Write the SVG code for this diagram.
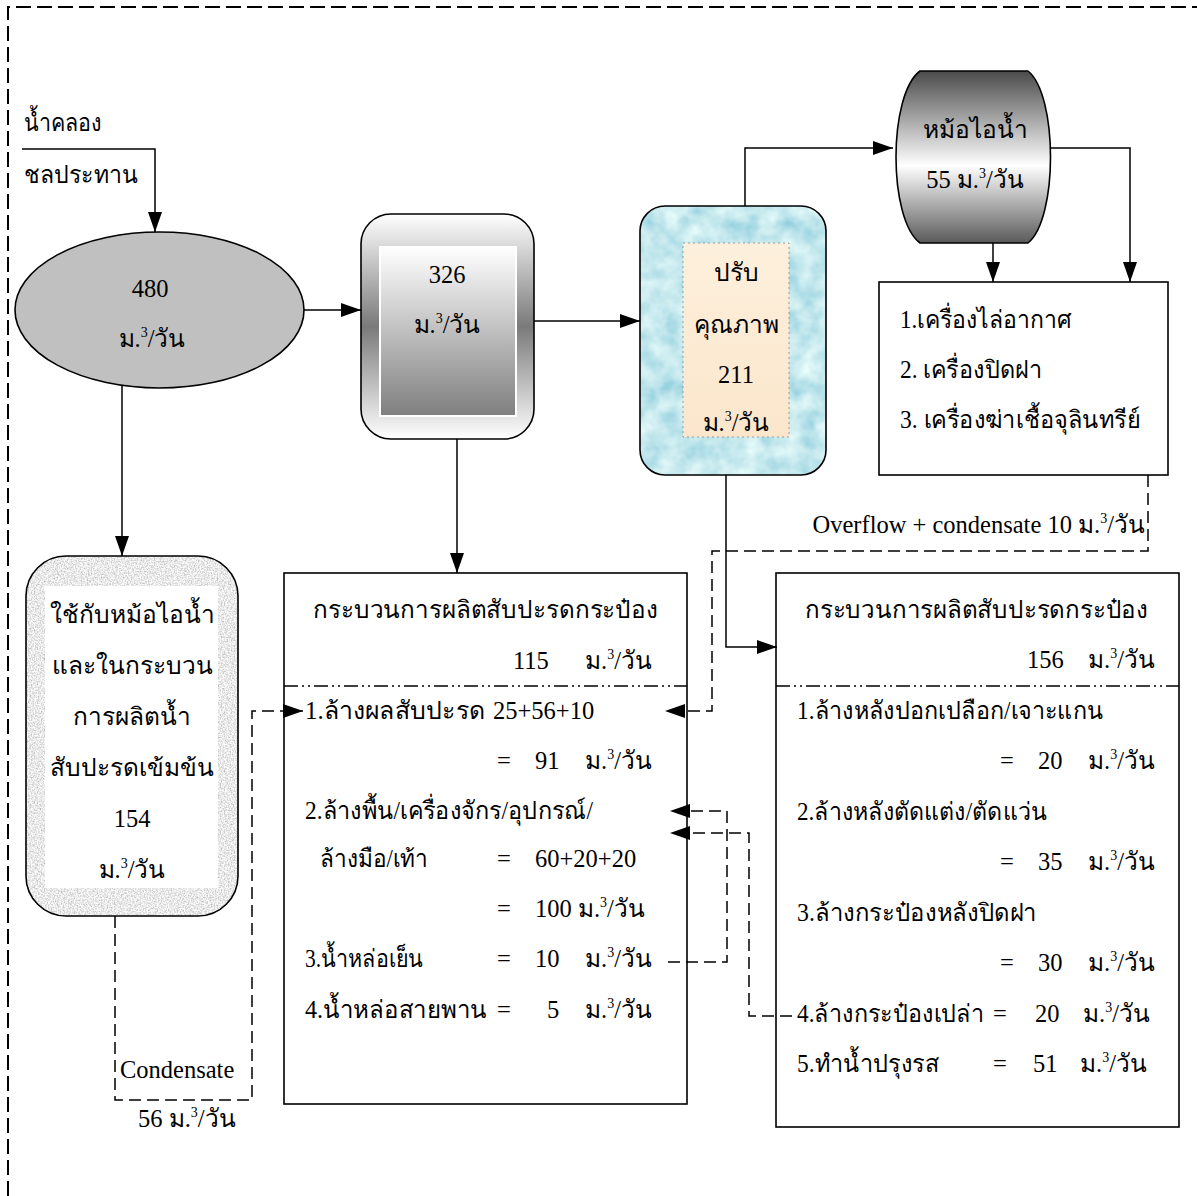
<svg xmlns="http://www.w3.org/2000/svg" width="1197" height="1196" viewBox="0 0 1197 1196">
<style>
text{font-family:"Liberation Serif","DejaVu Serif",serif;font-size:24.5px;fill:#000}
.c{text-anchor:middle}
.e{text-anchor:end}
.box{fill:#fff;stroke:#000;stroke-width:1.6}
.ln{fill:none;stroke:#000;stroke-width:1.5}
.ar{marker-end:url(#ah)}
.dl{fill:none;stroke:#000;stroke-width:1.5;stroke-dasharray:12 6}
.dd{fill:none;stroke:#000;stroke-width:1.3;stroke-dasharray:14 4 2 4 2 4}
.sup{font-size:14px}
</style>
<defs>
<marker id="ah" markerUnits="userSpaceOnUse" markerWidth="20" markerHeight="14" refX="20" refY="7" orient="auto">
<path d="M0,0 L20,7 L0,14 Z" fill="#000"/>
</marker>
<linearGradient id="g2o" x1="0" y1="0" x2="0" y2="1">
<stop offset="0" stop-color="#ffffff"/><stop offset="0.5" stop-color="#7a7a7a"/><stop offset="1" stop-color="#ffffff"/>
</linearGradient>
<linearGradient id="g2i" x1="0" y1="0" x2="0" y2="1">
<stop offset="0" stop-color="#ffffff"/><stop offset="1" stop-color="#7f7f7f"/>
</linearGradient>
<linearGradient id="gb" x1="0" y1="0" x2="0" y2="1">
<stop offset="0" stop-color="#4a4a4a"/><stop offset="0.55" stop-color="#ffffff"/><stop offset="1" stop-color="#5a5a5a"/>
</linearGradient>
<linearGradient id="gp" x1="0" y1="0" x2="0" y2="1">
<stop offset="0" stop-color="#fdf0dc"/><stop offset="1" stop-color="#fbe6cc"/>
</linearGradient>
<filter id="water" x="0" y="0" width="100%" height="100%">
<feTurbulence type="fractalNoise" baseFrequency="0.05" numOctaves="3" seed="7" result="n"/>
<feColorMatrix in="n" type="matrix" values="0.7 0 0 0 0.2  0.45 0 0 0 0.58  0.3 0 0 0 0.7  0 0 0 0 1" result="g"/>
<feComposite in="g" in2="SourceGraphic" operator="in"/>
</filter>
<filter id="granite" x="0" y="0" width="100%" height="100%">
<feTurbulence type="fractalNoise" baseFrequency="0.7" numOctaves="2" seed="3" result="n"/>
<feColorMatrix in="n" type="matrix" values="1 0 0 0 0.32  1 0 0 0 0.32  1 0 0 0 0.32  0 0 0 0 1" result="g"/>
<feComposite in="g" in2="SourceGraphic" operator="in"/>
</filter>
</defs>

<path d="M8,1196 V7 H1197" fill="none" stroke="#000" stroke-width="2" stroke-dasharray="15 6"/>

<g id="source">
<text x="24" y="131" textLength="78" lengthAdjust="spacingAndGlyphs">น้ำคลอง</text>
<text x="24" y="183" textLength="114" lengthAdjust="spacingAndGlyphs">ชลประทาน</text>
</g>

<g id="intake">
<ellipse cx="159.5" cy="310" rx="144.5" ry="78" fill="#c0c0c0" stroke="#000" stroke-width="1.6"/>
<text x="150" y="297" class="c">480</text>
<text x="152" y="347" class="c">ม.<tspan class="sup" dy="-10">3</tspan><tspan dy="10">/วัน</tspan></text>
</g>

<g id="tank326">
<rect x="361" y="214" width="173" height="225" rx="30" fill="url(#g2o)" stroke="#000" stroke-width="1.6"/>
<rect x="380" y="247" width="136" height="169" fill="url(#g2i)" stroke="#fff" stroke-width="2"/>
<text x="447" y="283" class="c">326</text>
<text x="447" y="333" class="c">ม.<tspan class="sup" dy="-10">3</tspan><tspan dy="10">/วัน</tspan></text>
</g>

<g id="treatment">
<rect x="640" y="206" width="186" height="269" rx="25" fill="#fff" filter="url(#water)"/>
<rect x="640" y="206" width="186" height="269" rx="25" fill="none" stroke="#000" stroke-width="1.6"/>
<rect x="683" y="243" width="106" height="194" fill="url(#gp)" stroke="#999" stroke-width="1" stroke-dasharray="2 3"/>
<text x="736" y="281" class="c">ปรับ</text>
<text x="736" y="333" class="c">คุณภาพ</text>
<text x="736" y="383" class="c">211</text>
<text x="736" y="431" class="c">ม.<tspan class="sup" dy="-10">3</tspan><tspan dy="10">/วัน</tspan></text>
</g>

<g id="boiler">
<path d="M920,71 H1028 C1058,95 1058,219 1028,243 H920 C888,219 888,95 920,71 Z" fill="url(#gb)" stroke="#000" stroke-width="1.6"/>
<text x="975" y="138" class="c">หม้อไอน้ำ</text>
<text x="975" y="188" class="c">55 ม.<tspan class="sup" dy="-10">3</tspan><tspan dy="10">/วัน</tspan></text>
</g>

<g id="machines">
<rect class="box" x="879" y="282" width="289" height="193"/>
<text x="900" y="328" textLength="172" lengthAdjust="spacingAndGlyphs">1.เครื่องไล่อากาศ</text>
<text x="900" y="378" textLength="142" lengthAdjust="spacingAndGlyphs">2. เครื่องปิดฝา</text>
<text x="900" y="428" textLength="240" lengthAdjust="spacingAndGlyphs">3. เครื่องฆ่าเชื้อจุลินทรีย์</text>
</g>

<g id="concentrate">
<rect x="26" y="556" width="212" height="360" rx="40" fill="#fff" filter="url(#granite)"/>
<rect x="26" y="556" width="212" height="360" rx="40" fill="none" stroke="#000" stroke-width="1.6"/>
<rect x="45" y="586" width="173" height="302" fill="#fff"/>
<text x="132" y="623" class="c">ใช้กับหม้อไอน้ำ</text>
<text x="132" y="674" class="c">และในกระบวน</text>
<text x="132" y="725" class="c">การผลิตน้ำ</text>
<text x="132" y="776" class="c">สับปะรดเข้มข้น</text>
<text x="132" y="827" class="c">154</text>
<text x="132" y="878" class="c">ม.<tspan class="sup" dy="-10">3</tspan><tspan dy="10">/วัน</tspan></text>
</g>

<g id="process115">
<rect class="box" x="284" y="573" width="403" height="531"/>
<path class="dd" d="M284,686 H687"/>
<text x="313" y="618" textLength="345" lengthAdjust="spacingAndGlyphs">กระบวนการผลิตสับปะรดกระป๋อง</text>
<text x="513" y="669">115</text>
<text x="585" y="669">ม.<tspan class="sup" dy="-10">3</tspan><tspan dy="10">/วัน</tspan></text>
<text x="305" y="719" textLength="180" lengthAdjust="spacingAndGlyphs">1.ล้างผลสับปะรด</text>
<text x="493" y="719">25+56+10</text>
<text x="497" y="769">=</text><text x="535" y="769">91</text>
<text x="585" y="769">ม.<tspan class="sup" dy="-10">3</tspan><tspan dy="10">/วัน</tspan></text>
<text x="305" y="819" textLength="288" lengthAdjust="spacingAndGlyphs">2.ล้างพื้น/เครื่องจักร/อุปกรณ์/</text>
<text x="320" y="867" textLength="108" lengthAdjust="spacingAndGlyphs">ล้างมือ/เท้า</text>
<text x="497" y="867">=</text><text x="535" y="867">60+20+20</text>
<text x="497" y="917">=</text><text x="535" y="917">100 ม.<tspan class="sup" dy="-10">3</tspan><tspan dy="10">/วัน</tspan></text>
<text x="305" y="967" textLength="118" lengthAdjust="spacingAndGlyphs">3.น้ำหล่อเย็น</text>
<text x="497" y="967">=</text><text x="535" y="967">10</text>
<text x="585" y="967">ม.<tspan class="sup" dy="-10">3</tspan><tspan dy="10">/วัน</tspan></text>
<text x="305" y="1018" textLength="182" lengthAdjust="spacingAndGlyphs">4.น้ำหล่อสายพาน</text>
<text x="497" y="1018">=</text><text x="547" y="1018">5</text>
<text x="585" y="1018">ม.<tspan class="sup" dy="-10">3</tspan><tspan dy="10">/วัน</tspan></text>
</g>

<g id="process156">
<rect class="box" x="776" y="573" width="403" height="554"/>
<path class="dd" d="M776,686 H1179"/>
<text x="805" y="618" textLength="343" lengthAdjust="spacingAndGlyphs">กระบวนการผลิตสับปะรดกระป๋อง</text>
<text x="1027" y="668">156</text>
<text x="1088" y="668">ม.<tspan class="sup" dy="-10">3</tspan><tspan dy="10">/วัน</tspan></text>
<text x="797" y="719" textLength="306" lengthAdjust="spacingAndGlyphs">1.ล้างหลังปอกเปลือก/เจาะแกน</text>
<text x="1000" y="769">=</text><text x="1038" y="769">20</text>
<text x="1088" y="769">ม.<tspan class="sup" dy="-10">3</tspan><tspan dy="10">/วัน</tspan></text>
<text x="797" y="820" textLength="250" lengthAdjust="spacingAndGlyphs">2.ล้างหลังตัดแต่ง/ตัดแว่น</text>
<text x="1000" y="870">=</text><text x="1038" y="870">35</text>
<text x="1088" y="870">ม.<tspan class="sup" dy="-10">3</tspan><tspan dy="10">/วัน</tspan></text>
<text x="797" y="921" textLength="240" lengthAdjust="spacingAndGlyphs">3.ล้างกระป๋องหลังปิดฝา</text>
<text x="1000" y="971">=</text><text x="1038" y="971">30</text>
<text x="1088" y="971">ม.<tspan class="sup" dy="-10">3</tspan><tspan dy="10">/วัน</tspan></text>
<text x="797" y="1022" textLength="187" lengthAdjust="spacingAndGlyphs">4.ล้างกระป๋องเปล่า</text>
<text x="993" y="1022">=</text><text x="1035" y="1022">20</text>
<text x="1083" y="1022">ม.<tspan class="sup" dy="-10">3</tspan><tspan dy="10">/วัน</tspan></text>
<text x="797" y="1072" textLength="142" lengthAdjust="spacingAndGlyphs">5.ทำน้ำปรุงรส</text>
<text x="993" y="1072">=</text><text x="1033" y="1072">51</text>
<text x="1080" y="1072">ม.<tspan class="sup" dy="-10">3</tspan><tspan dy="10">/วัน</tspan></text>
</g>

<g id="connectors">
<path class="ln ar" d="M22,149 H155 V232"/>
<path class="ln ar" d="M304,310 H361"/>
<path class="ln ar" d="M534,321 H640"/>
<path class="ln ar" d="M457,439 V573"/>
<path class="ln ar" d="M745,206 V148 H893"/>
<path class="ln ar" d="M993,243 V282"/>
<path class="ln ar" d="M1051,148 H1130 V282"/>
<path class="ln ar" d="M726,475 V647 H777"/>
<path class="ln ar" d="M122,385 V556"/>
<path class="dl ar" d="M1148,475 V551 H712 V711 H665"/>
<path class="dl ar" d="M115,916 V1100 H252 V711 H303"/>
<path class="dl ar" d="M668,962 H727 V811 H670"/>
<path class="dl ar" d="M792,1016 H749 V833 H670"/>
<text x="1145" y="533" class="e">Overflow + condensate 10 ม.<tspan class="sup" dy="-10">3</tspan><tspan dy="10">/วัน</tspan></text>
<text x="120" y="1078">Condensate</text>
<text x="138" y="1127">56 ม.<tspan class="sup" dy="-10">3</tspan><tspan dy="10">/วัน</tspan></text>
</g>
</svg>
